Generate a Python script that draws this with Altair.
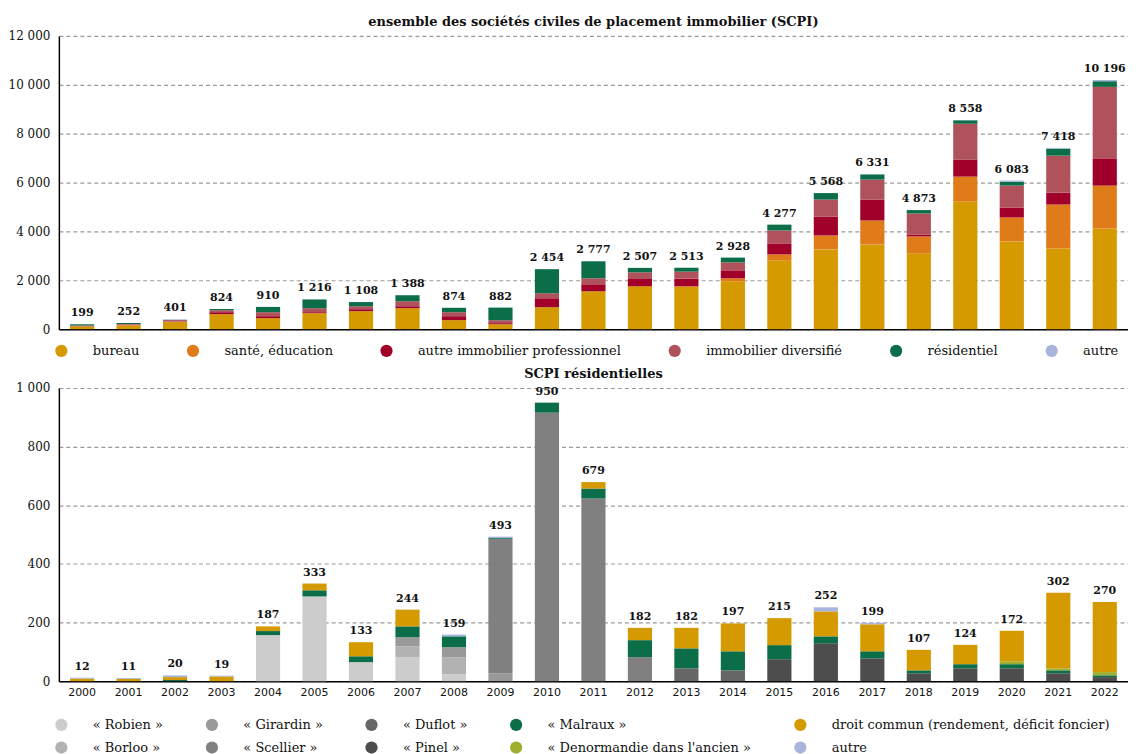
import altair as alt
import pandas as pd

years = [str(y) for y in range(2000, 2023)]

# ---- top chart: ensemble des SCPI ----
top_cats = ["bureau", "santé, éducation", "autre immobilier professionnel",
            "immobilier diversifié", "résidentiel", "autre"]
top_colors = ["#d59a00", "#e07b1a", "#a0002a", "#b0525c", "#0b6e48", "#a8b4dc"]
bureau = [100, 140, 290, 612, 449, 653, 734, 857, 367, 200, 898, 1550, 1754, 1727, 1958, 2815, 3264, 3468, 3101, 5222, 3590, 3305, 4121]
sante = [20, 30, 10, 0, 0, 0, 0, 0, 0, 0, 0, 0, 0, 27, 123, 245, 570, 979, 693, 1020, 980, 1795, 1754]
autre_pro = [10, 10, 10, 82, 81, 41, 82, 81, 163, 45, 367, 286, 327, 313, 326, 449, 775, 857, 82, 694, 408, 490, 1115]
diversifie = [20, 30, 60, 81, 164, 163, 122, 204, 164, 120, 204, 245, 245, 286, 327, 530, 694, 816, 857, 1469, 897, 1509, 2924]
residentiel = [49, 42, 10, 49, 216, 359, 170, 246, 180, 517, 985, 696, 181, 160, 194, 238, 265, 211, 140, 143, 158, 286, 232]
autre_top = [0, 0, 21, 0, 0, 0, 0, 0, 0, 0, 0, 0, 0, 0, 0, 0, 0, 0, 0, 10, 50, 33, 50]
top_totals = [199, 252, 401, 824, 910, 1216, 1108, 1388, 874, 882, 2454, 2777, 2507, 2513, 2928, 4277, 5568, 6331, 4873, 8558, 6083, 7418, 10196]
top_ticks = [0, 2000, 4000, 6000, 8000, 10000, 12000]

# ---- bottom chart: SCPI résidentielles ----
bot_stack = ["« Robien »", "« Borloo »", "« Girardin »", "« Scellier »", "« Duflot »",
             "« Pinel »", "« Malraux »", "« Denormandie dans l'ancien »",
             "droit commun (rendement, déficit foncier)", "autre"]
bot_colors_stack = ["#cccccc", "#b2b2b2", "#999999", "#808080", "#666666",
                    "#4d4d4d", "#0b6e48", "#9fae2e", "#d59a00", "#a8b4dc"]
robien = [0, 0, 0, 0, 157, 289, 65, 82, 24, 0, 0, 0, 0, 0, 0, 0, 0, 0, 0, 0, 0, 0, 0]
borloo = [0, 0, 0, 0, 0, 0, 0, 37, 58, 0, 0, 0, 0, 0, 0, 0, 0, 0, 0, 0, 0, 0, 0]
girardin = [0, 0, 0, 0, 0, 0, 0, 31, 34, 27, 0, 0, 0, 0, 0, 0, 0, 0, 0, 0, 0, 0, 0]
scellier = [0, 0, 0, 0, 0, 0, 0, 0, 0, 458, 916, 623, 82, 0, 0, 0, 0, 0, 0, 0, 0, 0, 0]
duflot = [0, 0, 0, 0, 0, 0, 0, 0, 0, 0, 0, 0, 0, 44, 37, 0, 0, 0, 0, 0, 0, 0, 0]
pinel = [0, 0, 0, 0, 0, 0, 0, 0, 0, 0, 0, 0, 0, 0, 0, 75, 129, 78, 27, 44, 44, 27, 14]
malraux = [0, 0, 4, 0, 14, 21, 20, 37, 37, 3, 34, 34, 58, 68, 65, 48, 24, 24, 10, 14, 14, 10, 6]
denormandie = [0, 0, 0, 0, 0, 0, 0, 0, 0, 0, 0, 0, 0, 0, 0, 0, 0, 0, 0, 0, 10, 7, 11]
droit_commun = [9, 8, 10, 16, 16, 23, 48, 57, 0, 0, 0, 22, 42, 70, 95, 92, 85, 92, 70, 66, 104, 258, 239]
autre_bot = [3, 3, 6, 3, 0, 0, 0, 0, 6, 5, 0, 0, 0, 0, 0, 0, 14, 5, 0, 0, 0, 0, 0]
bot_totals = [12, 11, 20, 19, 187, 333, 133, 244, 159, 493, 950, 679, 182, 182, 197, 215, 252, 199, 107, 124, 172, 302, 270]
bot_ticks = [0, 200, 400, 600, 800, 1000]
# legend order (row-major for a 5-column legend)
bot_legend_order = [0, 2, 4, 6, 8, 1, 3, 5, 7, 9]


def fmt(n):
    return f"{n:,}".replace(",", "\u00a0")


def long_df(series_list, names):
    rows = []
    for i, (name, vals) in enumerate(zip(names, series_list)):
        for y, v in zip(years, vals):
            if v > 0:
                rows.append({"year": y, "cat": name, "val": v, "idx": i})
    return pd.DataFrame(rows)


top_df = long_df([bureau, sante, autre_pro, diversifie, residentiel, autre_top], top_cats)
top_tot = pd.DataFrame({"year": years, "total": top_totals, "label": [fmt(t) for t in top_totals]})
bot_df = long_df([robien, borloo, girardin, scellier, duflot, pinel, malraux, denormandie,
                  droit_commun, autre_bot], bot_stack)
bot_tot = pd.DataFrame({"year": years, "total": bot_totals, "label": [fmt(t) for t in bot_totals]})

SERIF = "DejaVu Serif"
W, H = 1072, 294
xscale = alt.Scale(domain=years, paddingInner=0.48, paddingOuter=0.24)
label_expr = "replace(format(datum.value, ',d'), ',', '\u00a0')"


def yaxis(ticks):
    return alt.Axis(values=ticks, title=None, grid=True, gridDash=[4, 3], gridColor="#9a9a9a",
                    gridWidth=1.2, ticks=False, domainColor="black", domainWidth=1.5,
                    labelFont=SERIF, labelFontSize=12, labelColor="#111", labelPadding=9,
                    labelExpr=label_expr)


def legend(cols, ly, col_pad, row_pad=0):
    return alt.Legend(title=None, orient="none", legendX=-4, legendY=ly,
                      direction="horizontal", columns=cols, symbolType="circle",
                      symbolSize=150, symbolStrokeWidth=0, labelFont=SERIF,
                      labelFontSize=13, labelColor="#111", labelOffset=25,
                      columnPadding=col_pad, rowPadding=row_pad, padding=0, labelLimit=400)


# top
top_bars = alt.Chart(top_df).mark_bar().encode(
    x=alt.X("year:N", scale=xscale, sort=years,
            axis=alt.Axis(labels=False, ticks=False, title=None, domainColor="black", domainWidth=1.5)),
    y=alt.Y("val:Q", stack="zero", scale=alt.Scale(domain=[0, 12000], nice=False), axis=yaxis(top_ticks)),
    color=alt.Color("cat:N", scale=alt.Scale(domain=top_cats, range=top_colors),
                    legend=legend(6, 309, 47)),
    order=alt.Order("idx:Q"),
)
top_labels = alt.Chart(top_tot).mark_text(baseline="bottom", dy=-6, font=SERIF, fontSize=11,
                                          fontWeight="bold", color="#111").encode(
    x=alt.X("year:N", scale=xscale, sort=years),
    y=alt.Y("total:Q"),
    text="label:N",
)
top = alt.layer(top_bars, top_labels).properties(
    width=W, height=H,
    title=alt.Title("ensemble des sociétés civiles de placement immobilier (SCPI)",
                    font=SERIF, fontSize=13, fontWeight="bold", color="#111", offset=1),
)

# bottom
bot_bars = alt.Chart(bot_df).mark_bar().encode(
    x=alt.X("year:N", scale=xscale, sort=years,
            axis=alt.Axis(ticks=False, title=None, domainColor="black", domainWidth=1.5,
                          labelAngle=0, labelFont="DejaVu Sans", labelFontSize=11,
                          labelColor="#111", labelPadding=5)),
    y=alt.Y("val:Q", stack="zero", scale=alt.Scale(domain=[0, 1000], nice=False), axis=yaxis(bot_ticks)),
    color=alt.Color("cat:N",
                    scale=alt.Scale(domain=[bot_stack[i] for i in bot_legend_order],
                                    range=[bot_colors_stack[i] for i in bot_legend_order]),
                    legend=legend(5, 331, 42, 9)),
    order=alt.Order("idx:Q"),
)
bot_labels = alt.Chart(bot_tot).mark_text(baseline="bottom", dy=-6, font=SERIF, fontSize=11,
                                          fontWeight="bold", color="#111").encode(
    x=alt.X("year:N", scale=xscale, sort=years),
    y=alt.Y("total:Q"),
    text="label:N",
)
bottom = alt.layer(bot_bars, bot_labels).properties(
    width=W, height=H,
    title=alt.Title("SCPI résidentielles", font=SERIF, fontSize=13, fontWeight="bold",
                    color="#111", offset=1),
)

chart = alt.vconcat(top, bottom, spacing=10).resolve_scale(color="independent").configure_view(
    stroke=None
).properties(padding={"left": 0, "right": 0, "top": 7, "bottom": 0})

chart.save("out.html", embed_options={"renderer": "svg", "actions": False})
